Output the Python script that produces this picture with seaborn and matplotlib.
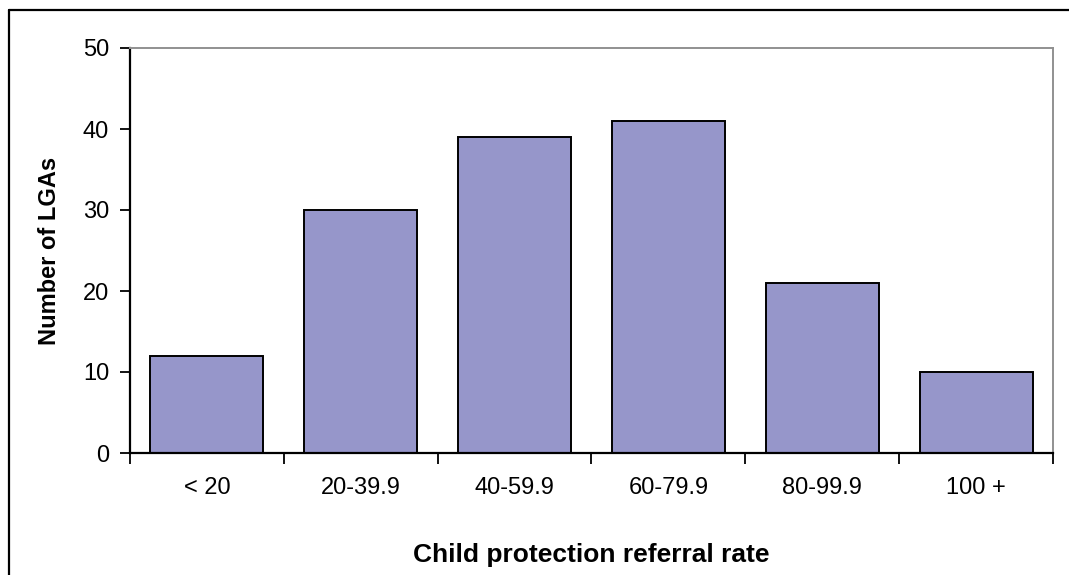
import matplotlib
matplotlib.use("Agg")
import matplotlib.pyplot as plt
import seaborn as sns
import pandas as pd
from matplotlib.lines import Line2D

# Data
categories = ["< 20", "20-39.9", "40-59.9", "60-79.9", "80-99.9", "100 +"]
counts = [12, 30, 39, 41, 21, 10]
y_ticks = [0, 10, 20, 30, 40, 50]

data = pd.DataFrame({"rate": categories, "lgas": counts})

sns.set_style("white")
plt.rcParams["font.family"] = ["Liberation Sans", "DejaVu Sans"]
plt.rcParams["text.color"] = "black"
plt.rcParams["axes.labelcolor"] = "black"

fig = plt.figure(figsize=(10.69, 5.75), dpi=100)
ax = fig.add_axes([130 / 1069, 1 - 453 / 575, 923 / 1069, 405 / 575])

sns.barplot(x="rate", y="lgas", data=data, color="#9696CA", saturation=1,
            width=0.735, edgecolor="black", linewidth=1.4, ax=ax)

ax.set_xlim(-0.5, len(categories) - 0.5)
ax.set_ylim(0, 50)
ax.set_yticks(y_ticks)
ax.tick_params(axis="y", labelsize=17, length=7, width=1.3, direction="out",
               left=True, pad=8, colors="black")

# category labels centered, tick marks on the boundaries
ax.set_xticks(range(len(categories)))
ax.set_xticklabels(categories, fontsize=17, color="black")
ax.tick_params(axis="x", length=0, pad=17)
ax.set_xticks([i - 0.5 for i in range(len(categories) + 1)], minor=True)
ax.tick_params(axis="x", which="minor", length=8, width=1.3, direction="out",
               bottom=True, color="black")

for side in ["left", "bottom"]:
    ax.spines[side].set_color("black")
    ax.spines[side].set_linewidth(1.6)
for side in ["top", "right"]:
    ax.spines[side].set_visible(True)
    ax.spines[side].set_color("#909090")
    ax.spines[side].set_linewidth(1.4)

ax.set_xlabel("Child protection referral rate", fontsize=19, fontweight="bold",
              labelpad=32)
ax.set_ylabel("Number of LGAs", fontsize=17, fontweight="bold", labelpad=16)

# outer chart frame (clipped on the right and bottom in the original)
fig.add_artist(Line2D([9 / 1069, 9 / 1069], [0, 1 - 10 / 575], color="black", lw=1.6))
fig.add_artist(Line2D([9 / 1069, 1], [1 - 10 / 575, 1 - 10 / 575], color="black", lw=1.6))

fig.savefig("out.png", dpi=100)
